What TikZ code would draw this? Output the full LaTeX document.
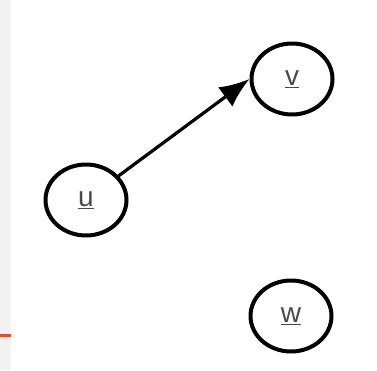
\documentclass[tikz,border=0pt]{standalone}
\usepackage{fontspec}
\setmainfont{Liberation Sans}
\usetikzlibrary{shapes.geometric,arrows.meta}
\definecolor{stripgray}{HTML}{F2F2F2}
\definecolor{stripred}{HTML}{D9532C}
\definecolor{labelgray}{HTML}{4A4A4A}
\newcommand*{\lbl}[1]{\underline{#1}}

\begin{document}
\begin{tikzpicture}[x=1pt,y=-1pt,
    vertex/.style ={ellipse, draw=black, line width=4pt, fill=white,
      minimum width=81pt, minimum height=71pt, inner sep=0pt,
      text=labelgray, font=\fontsize{28}{32}\selectfont},
    line/.style ={draw, line width=3.2pt, -{Latex[length=30pt,width=24pt]}, shorten >=0pt}]
    \useasboundingbox (0,0) rectangle (377,370);
    % left margin strip
    \fill[stripgray] (0,0) rectangle (11,370);
    \draw[stripred, line width=3pt] (0,335.5) -- (11,335.5);
    % the three vertices
    \node [vertex] (u) at (86,200) {\lbl{u}};
    \node [vertex] (v) at (292,79) {\lbl{v}};
    \node [vertex] (w) at (291,316) {\lbl{w}};
    % connecting nodes with paths
    \begin{scope}[every path/.style=line]
     \path (u)   -- (v.west);
    \end{scope}
  \end{tikzpicture}
\end{document}
